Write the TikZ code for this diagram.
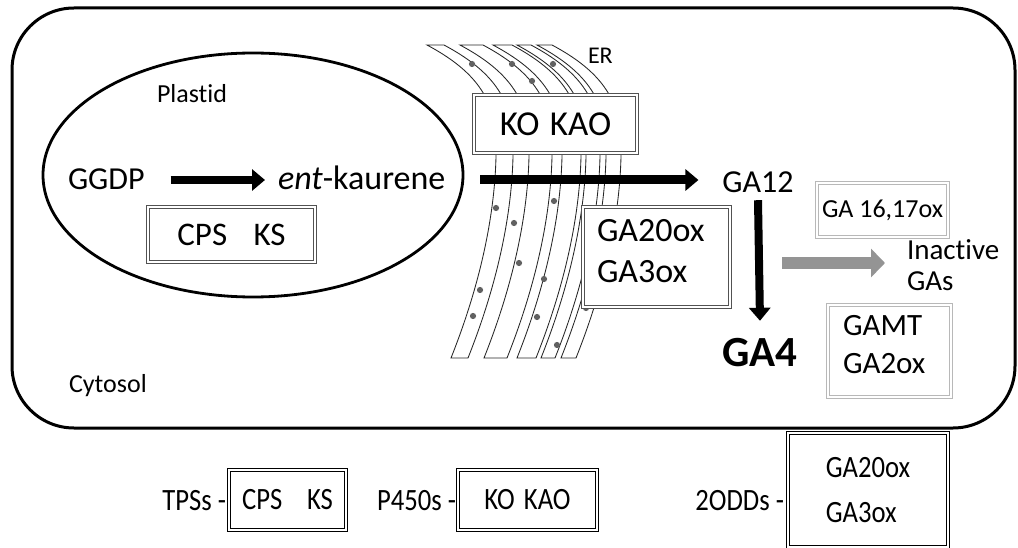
\documentclass[tikz,border=0pt]{standalone}
\usepackage{fontspec}
\setmainfont{Carlito}[Ligatures=NoCommon]
\newfontfamily\condensed{Carlito}[FakeStretch=0.86, Ligatures=NoCommon]
\usetikzlibrary{arrows.meta}
\newcommand\fsz[2]{\fontsize{#1}{#2}\selectfont}
\tikzset{
  lbl/.style={inner sep=0pt, outer sep=0pt},
  dbox/.style={draw=black!68, line width=3.3pt, fill=white, inner sep=0pt,
               postaction={draw=white, line width=1.1pt}},
  lbox/.style={draw=black!28, line width=3.3pt, fill=white, inner sep=0pt,
               postaction={draw=white, line width=1.1pt}},
  kbox/.style={draw=black, line width=3.3pt, fill=white, inner sep=0pt,
               postaction={draw=white, line width=1.1pt}},
  erline/.style={draw=black!85, line width=0.85pt},
  erdot/.style={fill=black!62},
  bigarrow/.style={line width=8pt, -{Triangle[length=13pt,width=21pt]}},
  grayarrow/.style={draw=black!42, line width=12pt, -{Triangle[length=14pt,width=28pt]}}
}
\newcommand\erstrip[2]{%
  \begin{scope}[xshift=#1pt]
    \draw[erline] (427,45) .. controls (470,68) and (495,95) .. (496,140)
      .. controls (497,185) and (490,260) .. (451,358) -- (451+#2,358)
      .. controls (490+#2,260) and (497+#2,185) .. (496+#2,140)
      .. controls (495+#2,95) and (470+#2,68) .. (427+#2,45) -- cycle;
  \end{scope}}
\begin{document}
\begin{tikzpicture}[x=1pt,y=-1pt]
\useasboundingbox (0,0) rectangle (1018,548);
\fill[white] (0,0) rectangle (1018,548);

% cell
\draw[line width=3pt, rounded corners=62pt] (12,8) rectangle (1015,428);
% plastid
\draw[line width=2.8pt] (253,175) ellipse [x radius=210, y radius=122];

% ER membranes
\erstrip{0}{17}
\erstrip{33}{23}
\erstrip{66}{19}
\erstrip{90}{14}
\erstrip{110}{15}
\foreach \p in {(472,64),(512,64),(532,81),(553,64),(496,208),(514,223),(554,201),(519,263),(480,290),(544,279),(473,316),(537,317),(557,345),(586,308)}
  \fill[erdot] \p circle (3.1pt);

% labels
\node[lbl, anchor=base west, font=\fsz{26}{30}] (plastid) at (157,103) {Plastid};
\node[lbl, anchor=base west, font=\fsz{26}{30}] (cytosol) at (69,392) {Cytosol};
\node[lbl, anchor=base west, font=\fsz{24}{28}] (er) at (588,64) {ER};

% plastid content
\node[lbl, anchor=base west, font=\fsz{32}{38}] (ggdp) at (68,190) {GGDP};
\node[lbl, anchor=base west, font=\fsz{34}{38}] (ent) at (278,190) {\textit{ent}-kaurene};
\node[dbox, minimum width=167pt, minimum height=55pt, font=\fsz{33}{36}] (cpsks) at (231.5,234.5) {CPS\hspace{0.8em}KS};

% ER enzymes
\node[dbox, minimum width=163pt, minimum height=58pt, font=\fsz{35}{38}] (kokao) at (555.5,124) {KO\hspace{0.3em}KAO};
\node[dbox, minimum width=147pt, minimum height=100pt] (ga20box) at (656.5,257) {};
\node[lbl, anchor=north west, align=left, font=\fsz{34}{41}] (ga20txt) at (597,219) {GA20ox\\GA3ox};

% cytosol products
\node[lbl, anchor=base, font=\fsz{32}{38}] (ga12) at (758,193) {GA12};
\node[lbl, anchor=base, font=\fsz{43}{48}\bfseries] (ga4) at (760,366) {GA4};
\node[lbox, minimum width=131pt, minimum height=54pt, font=\fsz{26}{30}] (ga1617) at (882.5,210) {GA 16,17ox};
\node[lbl, anchor=north west, align=left, font=\fsz{29}{31}] (inactive) at (907,240) {Inactive\\GAs};
\node[lbox, minimum width=123pt, minimum height=92pt] (gamtbox) at (889.5,351) {};
\node[lbl, anchor=north west, align=left, font=\fsz{31}{38}] (gamttxt) at (843,315) {GAMT\\GA2ox};
\coordinate (gstart) at (782,263);

% arrows
\draw[bigarrow] ([xshift=26pt]ggdp.east |- 0,180) -- ([xshift=-13pt]ent.west |- 0,180);
\draw[bigarrow, line width=9pt] ([xshift=35pt]ent.east |- 0,180) -- ([xshift=-24pt]ga12.west |- 0,180);
\draw[bigarrow] ([yshift=-7pt]ga12.south) -- ([yshift=17pt]ga4.north);
\draw[grayarrow] (gstart) -- ([xshift=-22pt]inactive.west |- gstart);

% legend row
\node[lbl, anchor=east, font=\condensed\fsz{31}{36}] (tps) at (226,501) {TPSs -};
\node[kbox, minimum width=117pt, minimum height=60pt, font=\condensed\fsz{31}{36}] (lcps) at (287.5,500) {CPS\hspace{0.8em}KS};
\node[lbl, anchor=east, font=\condensed\fsz{31}{36}] (p450) at (456,501) {P450s -};
\node[kbox, minimum width=139pt, minimum height=60pt, font=\condensed\fsz{31}{36}] (lko) at (527.5,500) {KO\hspace{0.3em}KAO};
\node[lbl, anchor=east, font=\condensed\fsz{31}{36}] (odd) at (784,501) {2ODDs -};
\node[kbox, minimum width=160pt, minimum height=114pt, align=left, font=\condensed\fsz{31}{45}] (lga) at (868,490) {GA20ox\\GA3ox};
\end{tikzpicture}
\end{document}
